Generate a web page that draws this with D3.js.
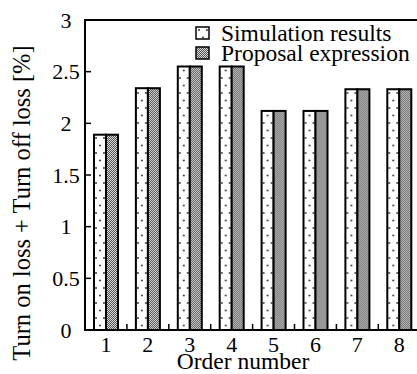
<!DOCTYPE html>
<html>
<head>
<meta charset="utf-8">
<script src="https://cdn.jsdelivr.net/npm/d3@7"></script>
<style>
  body { margin: 0; background: #fff; }
</style>
</head>
<body>
<div id="container"></div>
<script>
const orders = ['1', '2', '3', '4', '5', '6', '7', '8'];
const simulationResults = [1.89, 2.34, 2.55, 2.55, 2.12, 2.12, 2.33, 2.33];
const proposalExpression = [1.89, 2.34, 2.55, 2.55, 2.12, 2.12, 2.33, 2.33];
const yTicks = [0, 0.5, 1, 1.5, 2, 2.5, 3];
const seriesNames = ['Simulation results', 'Proposal expression'];

const width = 417;
const height = 374;
const margin = {top: 20, left: 85, bottom: 44};
const plotBottom = height - margin.bottom;
const plotRight = margin.left + 8 * 41.9;
const fontSize = 22;

const svg = d3.select('#container').append('svg')
  .attr('width', width)
  .attr('height', height)
  .style('font-family', '"Liberation Serif", "DejaVu Serif", Times, serif')
  .style('display', 'block');

const defs = svg.append('defs');

// sparse dots for simulation bars
const dots = defs.append('pattern')
  .attr('id', 'dots')
  .attr('patternUnits', 'userSpaceOnUse')
  .attr('width', 8)
  .attr('height', 15);
dots.append('rect').attr('width', 8).attr('height', 15).attr('fill', '#fff');
dots.append('circle').attr('cx', 3).attr('cy', 3).attr('r', 0.9).attr('fill', '#222');
dots.append('circle').attr('cx', 7).attr('cy', 10.5).attr('r', 0.9).attr('fill', '#222');

// fine checker for proposal bars
const checker = defs.append('pattern')
  .attr('id', 'checker')
  .attr('patternUnits', 'userSpaceOnUse')
  .attr('width', 2)
  .attr('height', 2);
checker.append('rect').attr('width', 2).attr('height', 2).attr('fill', '#d8d8d8');
checker.append('rect').attr('width', 1).attr('height', 1).attr('fill', '#555');
checker.append('rect').attr('x', 1).attr('y', 1).attr('width', 1).attr('height', 1).attr('fill', '#555');

const fills = ['url(#dots)', 'url(#checker)'];

const x = d3.scaleBand()
  .domain(orders)
  .range([margin.left, plotRight]);

const x1 = d3.scaleBand()
  .domain(seriesNames)
  .range([9, 33]);

const y = d3.scaleLinear()
  .domain([0, 3])
  .range([plotBottom, margin.top]);

// bars
const groups = svg.append('g').selectAll('.group')
  .data(orders)
  .enter().append('g')
  .attr('class', 'group')
  .attr('transform', d => 'translate(' + x(d) + ',0)');

groups.selectAll('rect')
  .data((d, i) => [simulationResults[i], proposalExpression[i]])
  .enter().append('rect')
  .attr('x', (d, i) => x1(seriesNames[i]))
  .attr('y', d => y(d))
  .attr('width', x1.bandwidth())
  .attr('height', d => y(0) - y(d))
  .attr('fill', (d, i) => fills[i])
  .attr('stroke', '#000')
  .attr('stroke-width', 2);

// frame
svg.append('rect')
  .attr('x', margin.left)
  .attr('y', margin.top)
  .attr('width', plotRight - margin.left)
  .attr('height', plotBottom - margin.top)
  .attr('fill', 'none')
  .attr('stroke', '#000')
  .attr('stroke-width', 2);

// y axis ticks (inward) and labels
svg.append('g').selectAll('line')
  .data(yTicks)
  .enter().append('line')
  .attr('x1', margin.left)
  .attr('x2', margin.left + 6)
  .attr('y1', d => y(d))
  .attr('y2', d => y(d))
  .attr('stroke', '#000')
  .attr('stroke-width', 1.5);

svg.append('g').selectAll('text')
  .data(yTicks)
  .enter().append('text')
  .attr('x', 66)
  .attr('y', d => y(d))
  .attr('dy', '0.35em')
  .attr('text-anchor', 'middle')
  .attr('font-size', fontSize)
  .text(d => d3.format('~g')(d));

// x axis small ticks at group boundaries
svg.append('g').selectAll('line')
  .data(orders.slice(1))
  .enter().append('line')
  .attr('x1', d => x(d))
  .attr('x2', d => x(d))
  .attr('y1', plotBottom)
  .attr('y2', plotBottom - 6)
  .attr('stroke', '#000')
  .attr('stroke-width', 1.5);

svg.append('g').selectAll('text')
  .data(orders)
  .enter().append('text')
  .attr('x', d => x(d) + x.bandwidth() / 2)
  .attr('y', plotBottom + 22)
  .attr('text-anchor', 'middle')
  .attr('font-size', fontSize)
  .text(d => d);

// axis titles
svg.append('text')
  .attr('x', 243)
  .attr('y', 369)
  .attr('text-anchor', 'middle')
  .attr('font-size', 23.5)
  .text('Order number');

svg.append('text')
  .attr('transform', 'translate(30,203) rotate(-90)')
  .attr('text-anchor', 'middle')
  .attr('font-size', 24.5)
  .text('Turn on loss + Turn off loss [%]');

// legend
const legend = svg.append('g')
  .attr('transform', 'translate(196,27)');

const item = legend.selectAll('.item')
  .data(seriesNames)
  .enter().append('g')
  .attr('class', 'item')
  .attr('transform', (d, i) => 'translate(0,' + i * 20 + ')');

item.append('rect')
  .attr('width', 13)
  .attr('height', 12)
  .attr('fill', (d, i) => fills[i])
  .attr('stroke', '#000')
  .attr('stroke-width', 1.5);

item.append('text')
  .attr('x', 25)
  .attr('y', 14)
  .attr('font-size', 23.5)
  .text(d => d);
</script>
</body>
</html>
